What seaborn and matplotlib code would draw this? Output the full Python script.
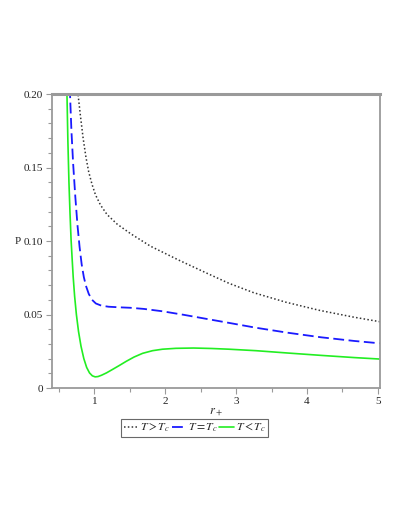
import pandas as pd
import matplotlib.pyplot as plt
import seaborn as sns
from matplotlib.ticker import MultipleLocator, FixedLocator, FixedFormatter

# 1. Values (r_+ vs P for three temperatures)
r_above = [0.760, 0.768, 0.80, 0.84, 0.88, 0.919, 0.966, 1.014, 1.085, 1.178, 1.32,
           1.51, 1.79, 2.19, 2.60, 2.90, 3.25, 3.70, 4.17, 4.65, 5.03]
p_above = [0.215, 0.200, 0.186, 0.170, 0.157, 0.147, 0.1385, 0.1315, 0.1245, 0.1180, 0.1115,
           0.1050, 0.0965, 0.0870, 0.0778, 0.0712, 0.0648, 0.0584, 0.0529, 0.0483, 0.0451]

r_crit = [0.645, 0.655, 0.675, 0.70, 0.73, 0.76, 0.79, 0.82, 0.85, 0.88, 0.92, 0.966,
          1.02, 1.10, 1.20, 1.35, 1.50, 1.70, 1.96, 2.26, 2.62, 2.90, 3.28, 3.73, 4.20, 4.67, 5.03]
p_crit = [0.215, 0.200, 0.175, 0.152, 0.130, 0.111, 0.0960, 0.0840, 0.0755, 0.0695, 0.0640, 0.0600,
          0.0575, 0.0560, 0.0553, 0.0549, 0.0546, 0.0538, 0.0522, 0.0498, 0.0467, 0.0443, 0.0410, 0.0376, 0.0345, 0.0320, 0.0304]

r_below = [0.605, 0.612, 0.625, 0.640, 0.655, 0.670, 0.685, 0.700, 0.720, 0.745, 0.775,
           0.81, 0.85, 0.89, 0.93, 0.97, 1.01, 1.05, 1.10, 1.17, 1.25, 1.35, 1.45, 1.56,
           1.68, 1.82, 1.96, 2.15, 2.40, 2.65, 2.90, 3.28, 3.73, 4.20, 4.67, 5.03]
p_below = [0.215, 0.200, 0.168, 0.140, 0.119, 0.101, 0.088, 0.0755, 0.0625, 0.0500, 0.0385,
           0.0285, 0.0200, 0.0140, 0.0103, 0.0083, 0.0076, 0.0078, 0.0087, 0.0103, 0.0125, 0.0153, 0.0182, 0.0211,
           0.0236, 0.0254, 0.0264, 0.0270, 0.0272, 0.0269, 0.0264, 0.0254, 0.0238, 0.0222, 0.0207, 0.0197]

labels = [r'$T > T_c$', r'$T = T_c$', r'$T < T_c$']
x_ticks = [1, 2, 3, 4, 5]
y_ticks = [0, 0.05, 0.10, 0.15, 0.20]
y_ticklabels = ['0', '0.05', '0.10', '0.15', '0.20']

df = pd.concat([
    pd.DataFrame({'r': r_above, 'P': p_above, 'case': labels[0]}),
    pd.DataFrame({'r': r_crit, 'P': p_crit, 'case': labels[1]}),
    pd.DataFrame({'r': r_below, 'P': p_below, 'case': labels[2]}),
], ignore_index=True)

# 2. Style
sns.set_theme(style="white")
plt.rcParams['font.family'] = ['Liberation Serif', 'DejaVu Serif']
plt.rcParams['mathtext.fontset'] = 'stix'

styles = {
    labels[0]: dict(color='#333333', linestyle=(0, (1, 1.5)), lw=1.1),
    labels[1]: dict(color='#1a1aff', linestyle=(0, (6, 2.5)), lw=1.3),
    labels[2]: dict(color='#22ee22', linestyle='-', lw=1.2),
}

fig = plt.figure(figsize=(4.09, 5.29), dpi=100)
ax = fig.add_axes([0.127, 0.2665, 0.802, 0.5558])

for case in labels:
    sub = df[df['case'] == case]
    st = styles[case]
    sns.lineplot(data=sub, x='r', y='P', ax=ax, sort=False, estimator=None,
                 color=st['color'], linestyle=st['linestyle'], linewidth=st['lw'],
                 label=case, legend=False)

ax.set_xlim(0.4, 5.03)
ax.set_ylim(0, 0.2)

# 3. Axes decoration (gray frame, outward ticks)
for sp in ax.spines.values():
    sp.set_color('#9a9a9a')
    sp.set_linewidth(1.3)
ax.spines['top'].set_linewidth(2.2)

ax.xaxis.set_major_locator(FixedLocator(x_ticks))
ax.xaxis.set_minor_locator(MultipleLocator(0.5))
ax.yaxis.set_major_locator(FixedLocator(y_ticks))
ax.yaxis.set_major_formatter(FixedFormatter(y_ticklabels))
ax.yaxis.set_minor_locator(MultipleLocator(0.01))
ax.tick_params(which='both', direction='out', color='#9a9a9a', width=0.8,
               labelsize=8, labelcolor='#222222', bottom=True, left=True)
ax.tick_params(which='major', length=4, pad=2.5)
ax.tick_params(which='minor', length=3)

ax.set_xlabel(r'$r_+$', fontsize=9, labelpad=0)
ax.set_ylabel('P', fontsize=8, rotation=0, labelpad=2, va='center', ha='right')

handles, _ = ax.get_legend_handles_labels()
fig.legend(handles, labels, loc='upper left', bbox_to_anchor=(0.297, 0.207),
           ncol=3, fontsize=8.5, frameon=True, fancybox=False, edgecolor='#444444',
           handlelength=1.25, handletextpad=0.15, columnspacing=0.1,
           borderpad=0.2, borderaxespad=0)
leg = fig.legends[0]
leg.get_frame().set_linewidth(0.8)

plt.savefig('out.png', dpi=100)
